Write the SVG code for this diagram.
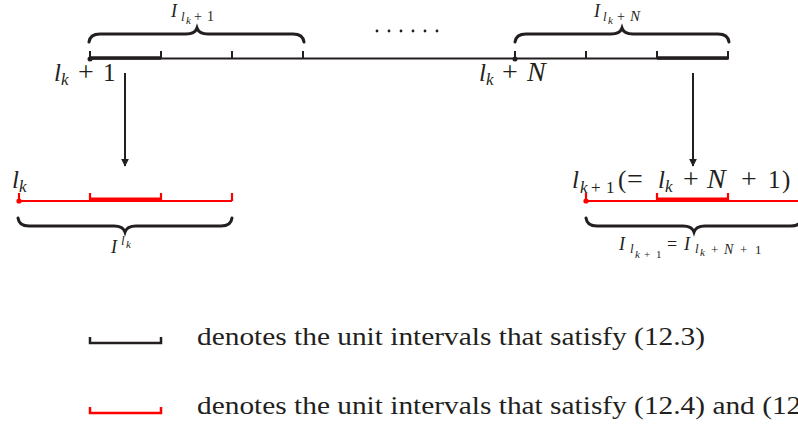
<svg xmlns="http://www.w3.org/2000/svg" width="798" height="426" viewBox="0 0 798 426">
<defs>
<marker id="ah" viewBox="0 0 10 10" refX="9" refY="5" markerWidth="4" markerHeight="4" orient="auto">
<path d="M0,0 L10,5 L0,10 z" fill="#231f20"/>
</marker>
</defs>
<rect width="798" height="426" fill="#fff"/>

<g id="top-axis" fill="none" stroke="#231f20">
<path stroke-width="2" d="M90,58.5 H729"/>
<path stroke-width="2" d="M90,51 V59 M161,51 V59 M232,51 V59 M303,51 V59 M515,51 V59 M586,51 V59 M657,51 V59 M728,51 V59"/>
<path stroke-width="3.5" d="M90,58 H161 M657,58 H728"/>
<g fill="#231f20" stroke="none">
<circle cx="90" cy="59" r="2.5"/>
<circle cx="515" cy="59" r="2.5"/>
<circle cx="377" cy="31" r="1.4"/><circle cx="389" cy="31" r="1.4"/><circle cx="401" cy="31" r="1.4"/>
<circle cx="413" cy="31" r="1.4"/><circle cx="425" cy="31" r="1.4"/><circle cx="437" cy="31" r="1.4"/>
</g>
</g>

<g id="brace-top-left">
<path fill="none" stroke="#231f20" stroke-width="3" stroke-linecap="round" d="M89,42 Q90,34 100,34 L186,34 Q195,34 197,28 Q199,34 208,34 L293,34 Q303,34 304,42"/>
<text y="17" fill="#231f20" font-family="Liberation Serif"><tspan font-style="italic" x="171" font-size="18">I</tspan><tspan font-style="italic" x="181" y="21" font-size="13">l</tspan><tspan font-style="italic" x="186" y="24" font-size="11">k</tspan><tspan x="194" y="21" font-size="14">+</tspan><tspan x="207" font-size="14">1</tspan></text>
</g>

<g id="brace-top-right">
<path fill="none" stroke="#231f20" stroke-width="3" stroke-linecap="round" d="M515,42 Q516,34 526,34 L611,34 Q620,34 622,28 Q624,34 633,34 L718,34 Q728,34 729,42"/>
<text y="17" fill="#231f20" font-family="Liberation Serif"><tspan font-style="italic" x="594" font-size="18">I</tspan><tspan font-style="italic" x="603" y="21" font-size="13">l</tspan><tspan font-style="italic" x="608" y="24" font-size="11">k</tspan><tspan x="617" y="21" font-size="14">+</tspan><tspan font-style="italic" x="630" y="21" font-size="15">N</tspan></text>
</g>

<g id="label-lk1">
<text y="81" font-size="25" fill="#231f20" font-family="Liberation Serif"><tspan font-style="italic" x="54">l</tspan><tspan font-style="italic" x="61" y="85" font-size="17">k</tspan><tspan x="78" y="81" font-size="28">+</tspan><tspan x="103">1</tspan></text>
</g>
<g id="label-lkN">
<text y="81" font-size="25" fill="#231f20" font-family="Liberation Serif"><tspan font-style="italic" x="479">l</tspan><tspan font-style="italic" x="486" y="85" font-size="17">k</tspan><tspan x="502" y="81" font-size="28">+</tspan><tspan font-style="italic" x="527" font-size="28">N</tspan></text>
</g>

<g id="connectors" stroke="#231f20" stroke-width="2">
<line x1="125" y1="73" x2="125" y2="166" marker-end="url(#ah)"/>
<line x1="693" y1="73" x2="693" y2="166" marker-end="url(#ah)"/>
</g>

<g id="bottom-left">
<g fill="none" stroke="#f00">
<path stroke-width="2.2" d="M19,201 H232"/>
<path stroke-width="2.2" d="M19,193 V201 M90,193 V201 M161,193 V201 M232,193 V201"/>
<path stroke-width="4" d="M90,199.5 H161"/>
</g>
<circle cx="19" cy="201" r="2.6" fill="#f00"/>
<text y="188" font-size="25" fill="#231f20" font-family="Liberation Serif"><tspan font-style="italic" x="12">l</tspan><tspan font-style="italic" x="19" y="192" font-size="17">k</tspan></text>
<path fill="none" stroke="#231f20" stroke-width="3" stroke-linecap="round" d="M18,218 Q19,226 29,226 L114,226 Q123,226 125,232 Q127,226 136,226 L221,226 Q231,226 232,218"/>
<text y="253" fill="#231f20" font-family="Liberation Serif"><tspan font-style="italic" x="111" font-size="18">I</tspan><tspan font-style="italic" x="121" y="245" font-size="13">l</tspan><tspan font-style="italic" x="126" y="248" font-size="11">k</tspan></text>
</g>

<g id="bottom-right">
<g fill="none" stroke="#f00">
<path stroke-width="2.2" d="M586,201 H798"/>
<path stroke-width="2.2" d="M586,193 V201 M657,193 V201 M728,193 V201"/>
<path stroke-width="4" d="M657,199.5 H728"/>
</g>
<circle cx="586" cy="201" r="2.6" fill="#f00"/>
<text y="188" font-size="25" fill="#231f20" font-family="Liberation Serif"><tspan font-style="italic" x="572">l</tspan><tspan font-style="italic" x="580" y="193" font-size="17">k</tspan><tspan x="591" y="193" font-size="17">+</tspan><tspan x="606" y="193" font-size="17">1</tspan><tspan x="618" y="188">(</tspan><tspan x="627" font-size="28">=</tspan><tspan font-style="italic" x="658">l</tspan><tspan font-style="italic" x="665" y="192" font-size="17">k</tspan><tspan x="683" y="188" font-size="28">+</tspan><tspan font-style="italic" x="707" font-size="28">N</tspan><tspan x="741" font-size="28">+</tspan><tspan x="768">1</tspan><tspan x="782">)</tspan></text>
<path fill="none" stroke="#231f20" stroke-width="3" stroke-linecap="round" d="M586,218 Q587,226 597,226 L683,226 Q692,226 694,232 Q696,226 705,226 L791,226 Q801,226 802,218"/>
<text y="250" fill="#231f20" font-family="Liberation Serif"><tspan font-style="italic" x="619" font-size="18">I</tspan><tspan font-style="italic" x="630" y="253" font-size="13">l</tspan><tspan font-style="italic" x="635" y="258" font-size="11">k</tspan><tspan x="644" y="258" font-size="11">+</tspan><tspan x="656" y="258" font-size="11">1</tspan><tspan x="667" y="250" font-size="18">=</tspan><tspan font-style="italic" x="684" font-size="18">I</tspan><tspan font-style="italic" x="695" y="253" font-size="13">l</tspan><tspan font-style="italic" x="700" y="256" font-size="11">k</tspan><tspan x="711" y="254" font-size="13">+</tspan><tspan font-style="italic" x="724" font-size="14">N</tspan><tspan x="740" font-size="13">+</tspan><tspan x="755" font-size="13">1</tspan></text>
</g>

<g id="legend">
<path d="M90,337 V343 H161 V337" fill="none" stroke="#231f20" stroke-width="2.5"/>
<path d="M90,407 V413 H161 V407" fill="none" stroke="#f00" stroke-width="2.5"/>
<text transform="translate(197,345) scale(1.175,1)" font-size="25" fill="#231f20" font-family="Liberation Serif">denotes the unit intervals that satisfy (12.3)</text>
<text transform="translate(197,414) scale(1.175,1)" font-size="25" fill="#231f20" font-family="Liberation Serif">denotes the unit intervals that satisfy (12.4) and (12</text>
</g>
</svg>
